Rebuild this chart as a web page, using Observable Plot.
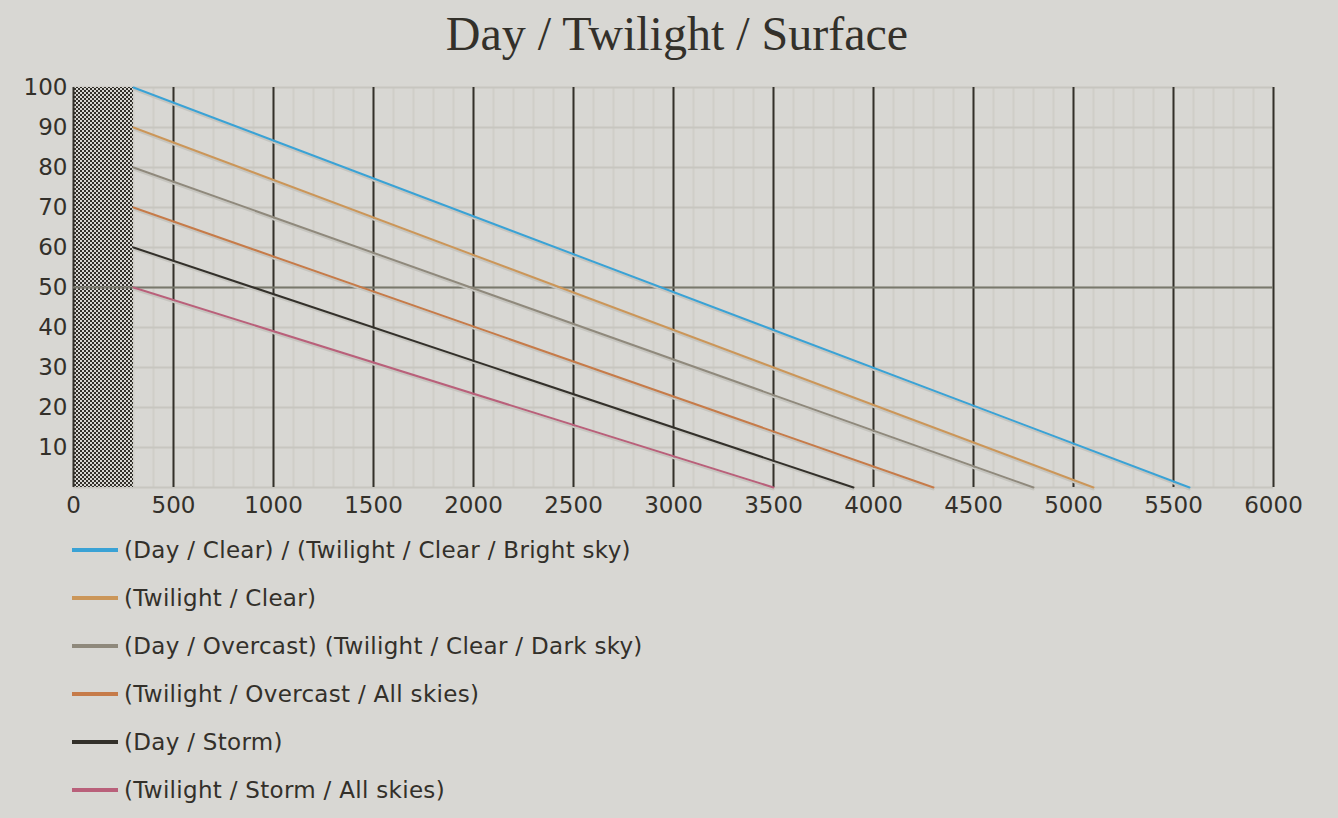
<!DOCTYPE html>
<html>
<head>
<meta charset="utf-8">
<script src="https://cdn.jsdelivr.net/npm/d3@7"></script>
<script src="https://cdn.jsdelivr.net/npm/@observablehq/plot@0.6"></script>
<style>
  html, body { margin: 0; padding: 0; background: #d8d7d3; }
  body { width: 1338px; height: 818px; position: relative; overflow: hidden; color: #33302a; }
  #title { position: absolute; left: 0; top: 10px; width: 1354px; text-align: center;
           font-family: "Liberation Serif", serif; font-size: 48px; line-height: 48px; white-space: nowrap; }
  #chart { position: absolute; left: 0; top: 70px; }
  #legend { position: absolute; left: 72px; top: 526px; font-family: "DejaVu Sans", sans-serif; font-size: 23px; letter-spacing: 0.3px; }
  .row { height: 48px; display: flex; align-items: center; white-space: nowrap; }
  .sw { width: 46px; height: 4px; margin-right: 6px; }
</style>
</head>
<body>
<div id="title">Day / Twilight / Surface</div>
<div id="chart"></div>
<div id="legend"></div>
<script>
const seriesNames = [
  "(Day / Clear) / (Twilight / Clear / Bright sky)",
  "(Twilight / Clear)",
  "(Day / Overcast) (Twilight / Clear / Dark sky)",
  "(Twilight / Overcast / All skies)",
  "(Day / Storm)",
  "(Twilight / Storm / All skies)"
];
const seriesColors = ["#3aa2d5", "#cb9659", "#8f897c", "#c67b49", "#33302a", "#b9607a"];
const startDistances = [300, 300, 300, 300, 300, 300];
const startValues = [100, 90, 80, 70, 60, 50];
const endDistances = [5580, 5100, 4800, 4300, 3900, 3500];
const endValues = [0, 0, 0, 0, 0, 0];
const hatchRange = [0, 300];
const xTicks = [0, 500, 1000, 1500, 2000, 2500, 3000, 3500, 4000, 4500, 5000, 5500, 6000];
const yTicks = [10, 20, 30, 40, 50, 60, 70, 80, 90, 100];
const midLine = [50];

const data = [];
seriesNames.forEach((name, i) => {
  data.push({series: name, x: startDistances[i], y: startValues[i]});
  data.push({series: name, x: endDistances[i], y: endValues[i]});
});

const ink = "#33302a";
const plot = Plot.plot({
  width: 1338,
  height: 457,
  marginLeft: 73,
  marginRight: 65,
  marginTop: 17,
  marginBottom: 40,
  style: {background: "transparent", color: ink, fontFamily: "'DejaVu Sans', sans-serif", fontSize: "23px"},
  x: {domain: [0, 6000]},
  y: {domain: [0, 100]},
  color: {domain: seriesNames, range: seriesColors},
  marks: [
    Plot.ruleX(d3.range(0, 6001, 100), {stroke: "#cfcec8", strokeWidth: 2}),
    Plot.ruleY(d3.range(0, 101, 10), {stroke: "#c7c6c0", strokeWidth: 2}),
    Plot.rect([hatchRange], {x1: d => d[0], x2: d => d[1], y1: 0, y2: 100, fill: "url(#checker)"}),
    Plot.ruleX(xTicks, {stroke: ink, strokeWidth: 2}),
    Plot.ruleY(midLine, {stroke: "#78786c", strokeWidth: 2}),
    Plot.line(data, {x: "x", y: "y", z: "series", stroke: "#c6c5bf", strokeWidth: 2, dy: 2}),
    Plot.line(data, {x: "x", y: "y", z: "series", stroke: "series", strokeWidth: 2}),
    Plot.axisX({ticks: xTicks, tickSize: 0, tickPadding: 9, label: null, tickFormat: d => String(d)}),
    Plot.axisY({ticks: yTicks, tickSize: 0, tickPadding: 6, label: null, tickFormat: d => String(d)})
  ]
});

const ns = "http://www.w3.org/2000/svg";
const defs = document.createElementNS(ns, "defs");
defs.innerHTML = '<pattern id="checker" width="4" height="4" patternUnits="userSpaceOnUse">' +
  '<rect width="4" height="4" fill="#d8d7d3"/>' +
  '<rect width="2" height="2" fill="' + ink + '"/>' +
  '<rect x="2" y="2" width="2" height="2" fill="' + ink + '"/></pattern>';
plot.insertBefore(defs, plot.firstChild);
document.getElementById("chart").appendChild(plot);

const legend = document.getElementById("legend");
seriesNames.forEach((name, i) => {
  const row = document.createElement("div");
  row.className = "row";
  const sw = document.createElement("div");
  sw.className = "sw";
  sw.style.background = seriesColors[i];
  const t = document.createElement("span");
  t.textContent = name;
  row.appendChild(sw);
  row.appendChild(t);
  legend.appendChild(row);
});
</script>
</body>
</html>
